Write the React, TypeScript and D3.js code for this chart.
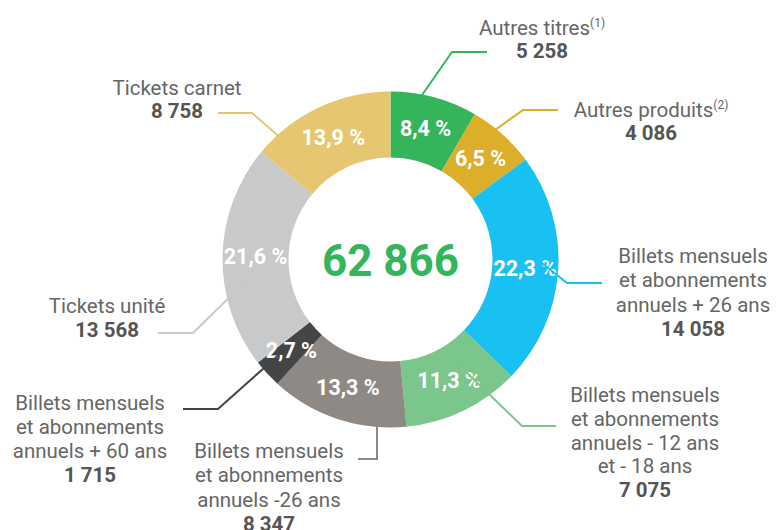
import React from 'react'
import * as d3 from 'd3'

// Data (clockwise from 12 o'clock)
const categories = [
  ['Autres titres'],
  ['Autres produits'],
  ['Billets mensuels', 'et abonnements', 'annuels + 26 ans'],
  ['Billets mensuels', 'et abonnements', 'annuels - 12 ans', 'et - 18 ans'],
  ['Billets mensuels', 'et abonnements', 'annuels -26 ans'],
  ['Billets mensuels', 'et abonnements', 'annuels + 60 ans'],
  ['Tickets unité'],
  ['Tickets carnet'],
]
const notes = ['(1)', '(2)', '', '', '', '', '', '']
const values = [5258, 4086, 14058, 7075, 8347, 1715, 13568, 8758]
const valueLabels = ['5 258', '4 086', '14 058', '7 075', '8 347', '1 715', '13 568', '8 758']
const percents = ['8,4 %', '6,5 %', '22,3 %', '11,3 %', '13,3 %', '2,7 %', '21,6 %', '13,9 %']
const colors = ['#35b55b', '#dcae29', '#18c1f1', '#7bc68a', '#8e8985', '#444547', '#c8c9cb', '#e6c670']
const totalLabel = '62 866'

// Label layout: text anchor + leader line points
const layout = [
  { x: 542, y: 35, gap: 23, line: [[420, 98], [452, 52], [487, 52]] },
  { x: 651, y: 117, gap: 23, line: [[495, 130], [523, 110], [558, 110]] },
  { x: 693, y: 263, gap: 24.3, line: [[528, 252], [567, 283], [602, 283]] },
  { x: 645, y: 402, gap: 23.8, line: [[462, 368], [522, 426], [556, 426]] },
  { x: 269, y: 458, gap: 24.3, line: [[377, 405], [377, 459], [358, 459]] },
  { x: 90, y: 410, gap: 24, line: [[282, 352], [218, 409], [183, 409]] },
  { x: 107, y: 313, gap: 24, line: [[245, 282], [193, 333], [158, 333]] },
  { x: 177, y: 95, gap: 23, line: [[290, 146], [252, 113], [218, 113]] },
]

const width = 776
const height = 530
const cx = 390.5
const cy = 259.5
const outer = 168
const inner = 102

const App = () => {
  const pie = d3.pie<number>().sort(null).value(d => d)
  const arcs = pie(values)
  const arc = d3.arc<d3.PieArcDatum<number>>().innerRadius(inner).outerRadius(outer)
  const lineGen = d3.line()

  return (
    <div style={{ position: 'absolute', left: 0, top: 0 }}>
      <svg width={width} height={height} style={{ fontFamily: 'Roboto, sans-serif', display: 'block' }}>
        <g transform={`translate(${cx},${cy})`}>
          {arcs.map((a, i) => (
            <path key={i} d={arc(a) || ''} fill={colors[i]} />
          ))}
          {arcs.map((a, i) => {
            const [x, y] = arc.centroid(a)
            return (
              <text key={i} x={x} y={y} dy="0.34em" textAnchor="middle"
                fill="#fff" fontWeight="bold" fontSize={21.5}>
                {percents[i]}
              </text>
            )
          })}
          <text x={0} y={16} textAnchor="middle" fill="#35b55b" fontWeight="bold" fontSize={44}>
            {totalLabel}
          </text>
        </g>
        {layout.map((l, i) => (
          <path key={'l' + i} d={lineGen(l.line as [number, number][]) || ''}
            fill="none" stroke={colors[i]} strokeWidth={2} />
        ))}
        {layout.map((l, i) => (
          <g key={'t' + i}>
            {categories[i].map((c, j) => (
              <text key={j} x={l.x} y={l.y + j * l.gap} textAnchor="middle" fill="#666" fontSize={20.5}>
                {c}
                {notes[i] && j === categories[i].length - 1 ? (
                  <tspan fontSize={12} dy={-8}>{notes[i]}</tspan>
                ) : null}
              </text>
            ))}
            <text x={l.x} y={l.y + categories[i].length * l.gap} textAnchor="middle"
              fill="#555" fontWeight="bold" fontSize={20.5}>
              {valueLabels[i]}
            </text>
          </g>
        ))}
      </svg>
    </div>
  )
}

export default App
